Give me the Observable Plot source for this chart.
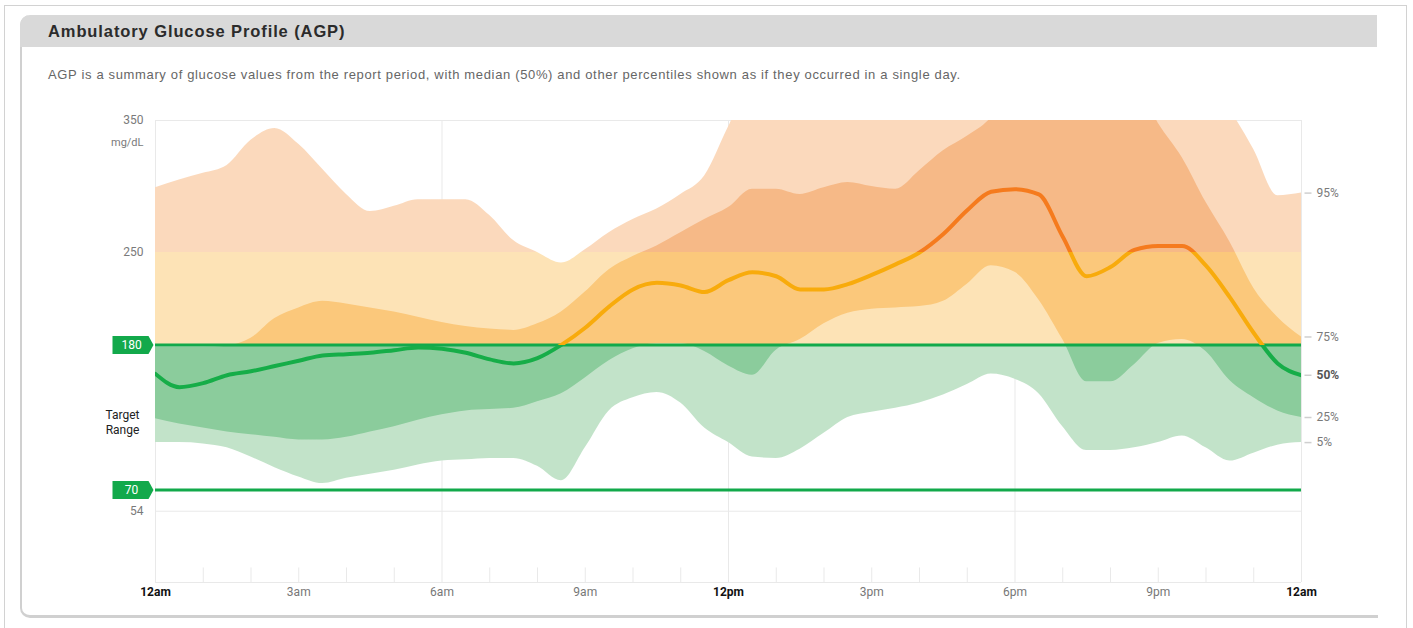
<!DOCTYPE html>
<html>
<head>
<meta charset="utf-8">
<script src="https://cdn.jsdelivr.net/npm/d3@7"></script>
<script src="https://cdn.jsdelivr.net/npm/@observablehq/plot@0.6"></script>
<style>
  html, body { margin: 0; padding: 0; background: #fff; }
  #page { position: relative; width: 1413px; height: 628px; overflow: hidden; font-family: "Liberation Sans", Arial, sans-serif; }
  #outer { position: absolute; left: 4px; top: 5px; width: 1401px; height: 660px; border: 1px solid #d2d2d2; }
  #panel { position: absolute; left: 20px; top: 15px; width: 1356px; height: 600px; border-left: 2px solid #d0d0d0; border-bottom: 3px solid #d0d0d0; border-radius: 10px 0 0 10px; }
  #header { position: absolute; left: 20px; top: 15px; width: 1357px; height: 32px; background: #d9d9d9; border-radius: 10px 0 0 0; }
  #title { position: absolute; left: 48px; top: 22px; font-size: 16.5px; letter-spacing: 0.9px; font-weight: bold; color: #2b2b2b; white-space: nowrap; }
  #subtitle { position: absolute; left: 48px; top: 67px; font-size: 13px; letter-spacing: 0.65px; color: #666; white-space: nowrap; }
  #chart { position: absolute; left: 0; top: 100px; }
</style>
</head>
<body>
<div id="page">
  <div id="outer"></div>
  <div id="panel"></div>
  <div id="header"></div>
  <div id="title">Ambulatory Glucose Profile (AGP)</div>
  <div id="subtitle">AGP is a summary of glucose values from the report period, with median (50%) and other percentiles shown as if they occurred in a single day.</div>
  <div id="chart"></div>
</div>
<script>
// ---- data (hours of day, glucose mg/dL percentiles) ----
const hours = [0,0.5,1,1.5,2,2.5,3,3.5,4,4.5,5,5.5,6,6.5,7,7.5,8,8.5,9,9.5,10,10.5,11,11.5,12,12.5,13,13.5,14,14.5,15,15.5,16,16.5,17,17.5,18,18.5,19,19.5,20,20.5,21,21.5,22,22.5,23,23.5,24];
const p95 = [299,305,310,316,335,344,332,313,294,281,285,290,290,290,278,259,250,242,252,265,275,283,294,308,345,380,380,380,380,380,380,380,380,380,380,380,380,380,380,380,380,380,380,380,380,358,328,293,295];
const p75 = [178,178,178,179,185,200,208,213,211,208,205,201,197,194,192,191,196,205,220,237,247,255,265,275,284,298,298,294,299,303,300,298,312,327,338,352,380,380,380,380,380,380,348,322,288,258,223,201,186];
const p50 = [158,148,151,157,160,164,168,172,173,174,176,178,177,174,169,166,170,180,193,209,222,227,225,220,229,235,232,222,222,226,233,241,250,264,282,296,298,294,262,232,239,252,255,255,240,216,189,166,157];
const p25 = [124,120,117,114,112,110,108,108,110,114,118,123,127,130,131,132,137,143,155,168,177,181,181,175,164,157,176,184,196,204,207,208,209,213,226,240,235,214,184,152,152,165,181,184,175,153,140,130,125];
const p5  = [106,106,105,102,95,87,80,75,79,82,85,89,92,93,94,94,88,77,102,130,140,144,136,117,106,95,94,101,113,125,129,132,136,142,150,158,154,143,118,100,100,102,106,111,102,92,98,104,106];

const targetLow = 70, targetHigh = 180, veryHigh = 250;
const yTickValues = [350, 250, 54];
const unitLabel = "mg/dL";
const targetLabel = "Target\nRange";
const boldHours = [0, 12, 24];
const boldHourLabels = ["12am", "12pm", "12am"];
const otherHours = [3, 6, 9, 15, 18, 21];
const otherHourLabels = ["3am", "6am", "9am", "3pm", "6pm", "9pm"];
const gridHours = [6, 12, 18];
const minorHours = [1,2,3,4,5,7,8,9,10,11,13,14,15,16,17,19,20,21,22,23];
const pctLabels = ["95%", "75%", "25%", "5%"];
const medianLabel = "50%";

// colours per zone: [> 250, 180–250, < 180]
const lightColors = ["#fbd9bc", "#fde3b6", "#c2e3c9"];
const darkColors  = ["#f6b987", "#fbc87b", "#8bcc9c"];
const medianColors = ["#f57b1e", "#f8ab0c", "#16ad48"];
const targetGreen = "#12a94b";
const gridColor = "#e9e9e9";

const rows = hours.map((h, i) => ({h, p5: p5[i], p25: p25[i], p50: p50[i], p75: p75[i], p95: p95[i]}));
const last = rows[rows.length - 1];
const rightRows = [last.p95, last.p75, last.p25, last.p5].map((v, i) => ({v, t: pctLabels[i]}));

const tagSymbol = {
  draw(ctx) {
    ctx.moveTo(-43, -9);
    ctx.lineTo(-7, -9);
    ctx.lineTo(-2, 0);
    ctx.lineTo(-7, 9);
    ctx.lineTo(-43, 9);
    ctx.closePath();
  }
};
const dashSymbol = {
  draw(ctx) { ctx.moveTo(3, 0); ctx.lineTo(10, 0); }
};

const chart = Plot.plot({
  width: 1413,
  height: 512,
  marginLeft: 155,
  marginRight: 112,
  marginTop: 20,
  marginBottom: 30,
  style: {background: "none", fontFamily: "Roboto, 'Liberation Sans', sans-serif", fontSize: "12px", overflow: "visible"},
  x: {domain: [0, 24], axis: null},
  y: {domain: [0, 350], axis: null},
  marks: [
    Plot.ruleX(gridHours, {y1: 0, y2: 350, stroke: gridColor}),
    Plot.ruleX(minorHours, {y1: 0, y2: 11, stroke: gridColor}),
    Plot.ruleX([0, 24], {y1: 0, y2: 350, stroke: gridColor}),
    Plot.ruleY([0, 54, 350], {x1: 0, x2: 24, stroke: gridColor}),
    Plot.areaY(rows, {x: "h", y1: "p5", y2: "p95", fill: "url(#agpLight)", curve: "monotone-x", clip: true}),
    Plot.areaY(rows, {x: "h", y1: "p25", y2: "p75", fill: "url(#agpDark)", curve: "monotone-x", clip: true}),
    Plot.ruleY([targetLow, targetHigh], {x1: 0, x2: 24, stroke: targetGreen, strokeWidth: 3}),
    Plot.line(rows, {x: "h", y: "p50", stroke: "url(#agpMedian)", strokeWidth: 4, curve: "monotone-x", clip: true}),
    // target tags
    Plot.dot([targetHigh, targetLow], {x: 0, y: d => d, symbol: tagSymbol, fill: targetGreen, stroke: "none"}),
    Plot.text([targetHigh, targetLow], {x: 0, y: d => d, text: d => String(d), dx: -24, fill: "white", fontSize: 12}),
    // left labels
    Plot.text(yTickValues, {y: d => d, text: d => String(d), frameAnchor: "left", dx: -12, textAnchor: "end", fill: "#7a7a7a", fontSize: 12}),
    Plot.text([unitLabel], {y: () => 350, text: d => d, frameAnchor: "left", dx: -12, dy: 22, textAnchor: "end", fill: "#7a7a7a", fontSize: 11}),
    Plot.text([targetLabel], {y: () => (targetLow + targetHigh) / 2, text: d => d, frameAnchor: "left", dx: -33, dy: 4, textAnchor: "middle", fill: "#222", fontSize: 12, lineHeight: 1.3}),
    // right percentile labels
    Plot.dot(rightRows.concat([{v: last.p50}]), {x: 24, y: "v", symbol: dashSymbol, stroke: "#cfcfcf", fill: "none"}),
    Plot.text(rightRows, {y: "v", text: "t", frameAnchor: "right", dx: 15, textAnchor: "start", fill: "#7a7a7a", fontSize: 12}),
    Plot.text([medianLabel], {y: () => last.p50, text: d => d, frameAnchor: "right", dx: 15, textAnchor: "start", fill: "#555", fontWeight: "bold", fontSize: 12}),
    // x labels
    Plot.text(boldHours, {x: d => d, text: (d, i) => boldHourLabels[i], frameAnchor: "bottom", dy: 13, fill: "#111", fontWeight: "bold", fontSize: 12}),
    Plot.text(otherHours, {x: d => d, text: (d, i) => otherHourLabels[i], frameAnchor: "bottom", dy: 13, fill: "#777", fontSize: 12})
  ]
});

// zone gradients built from the chart's own y scale
const ys = chart.scale("y");
const yTop = ys.apply(350), yBot = ys.apply(0);
const off = v => (ys.apply(v) - yTop) / (yBot - yTop);
const defs = d3.select(chart).insert("defs", ":first-child");
function zoneGradient(id, colors) {
  const g = defs.append("linearGradient").attr("id", id)
    .attr("gradientUnits", "userSpaceOnUse")
    .attr("x1", 0).attr("x2", 0).attr("y1", yTop).attr("y2", yBot);
  const stops = [
    [0, colors[0]], [off(veryHigh), colors[0]],
    [off(veryHigh), colors[1]], [off(targetHigh), colors[1]],
    [off(targetHigh), colors[2]], [1, colors[2]]
  ];
  for (const [o, c] of stops) g.append("stop").attr("offset", o).attr("stop-color", c);
}
zoneGradient("agpLight", lightColors);
zoneGradient("agpDark", darkColors);
zoneGradient("agpMedian", medianColors);

document.getElementById("chart").appendChild(chart);
</script>
</body>
</html>
